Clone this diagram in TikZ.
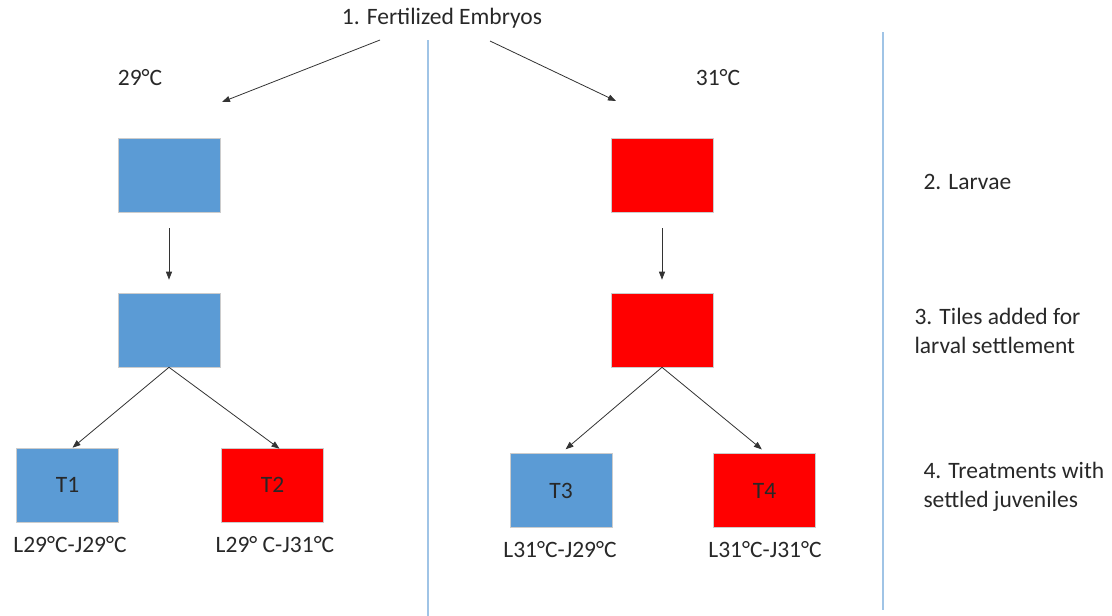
\documentclass[tikz,border=0pt]{standalone}
\usepackage{fontspec}
\setmainfont{Carlito}
\usetikzlibrary{arrows.meta}
\definecolor{boxblue}{RGB}{91,155,213}
\definecolor{boxred}{RGB}{255,0,0}
\definecolor{divblue}{RGB}{160,196,230}
\definecolor{txt}{RGB}{40,40,40}

\begin{document}
\begin{tikzpicture}[x=1pt,y=-1pt,
        font=\fontsize{23.5}{28.5}\selectfont, text=txt,
        tank/.style={draw=black!20, fill=#1, minimum width=102pt, minimum height=74pt, inner sep=0pt, line width=0.6pt},
        arr/.style={-{Triangle[length=8pt,width=6pt]}, line width=0.8pt, draw=black!80},
        divider/.style={divblue, line width=1.3pt}]
        \useasboundingbox (0,0) rectangle (1112,616);

        % dividers
        \draw[divider] (428,40) -- (428,616);
        \draw[divider] (883,32) -- (883,610);

        % title and temperatures
        \node (ttl) at (442,18) {1. Fertilized Embryos};
        \node (t29) at (140,78) {29°C};
        \node (t31) at (718,78) {31°C};
        \coordinate (ls) at (380,40);
        \coordinate (le) at (222,102);
        \coordinate (rs) at (490,41);
        \coordinate (re) at (616,101);
        \draw[arr] (ls) -- (le);
        \draw[arr] (rs) -- (re);

        % larvae
        \node[tank=boxblue] (lb) at (169,175) {};
        \node[tank=boxred] (lr) at (662,175) {};
        % tiles
        \node[tank=boxblue] (tb) at (169,330) {};
        \node[tank=boxred] (tr) at (662,330) {};
        \draw[arr, shorten <=16pt, shorten >=13pt] (lb) -- (tb);
        \draw[arr, shorten <=16pt, shorten >=13pt] (lr) -- (tr);

        % treatments
        \node[tank=boxblue] (T1) at (67.5,485) {T1};
        \node[tank=boxred] (T2) at (272.5,485) {T2};
        \node[tank=boxblue] (T3) at (561,490.5) {T3};
        \node[tank=boxred] (T4) at (764.5,490.5) {T4};
        \draw[arr] (tb.south) -- ([xshift=5pt]T1.north);
        \draw[arr] (tb.south) -- ([xshift=7pt,yshift=-1pt]T2.north);
        \draw[arr, shorten >=6pt] (tr.south) -- (T3.north);
        \draw[arr, shorten >=6pt] (tr.south) -- ([xshift=2pt]T4.north);

        \node (c1) at (70,545) {L29°C-J29°C};
        \node (c2) at (275,545) {L29° C-J31°C};
        \node (c3) at (560,550) {L31°C-J29°C};
        \node (c4) at (765,550) {L31°C-J31°C};

        % stages
        \node[anchor=west] (s2) at (920,182) {2. Larvae};
        \node[anchor=west, align=left] (s3) at (911,331) {3. Tiles added for\\larval settlement};
        \node[anchor=west, align=left] (s4) at (920,487) {4. Treatments with\\settled juveniles};
\end{tikzpicture}
\end{document}
